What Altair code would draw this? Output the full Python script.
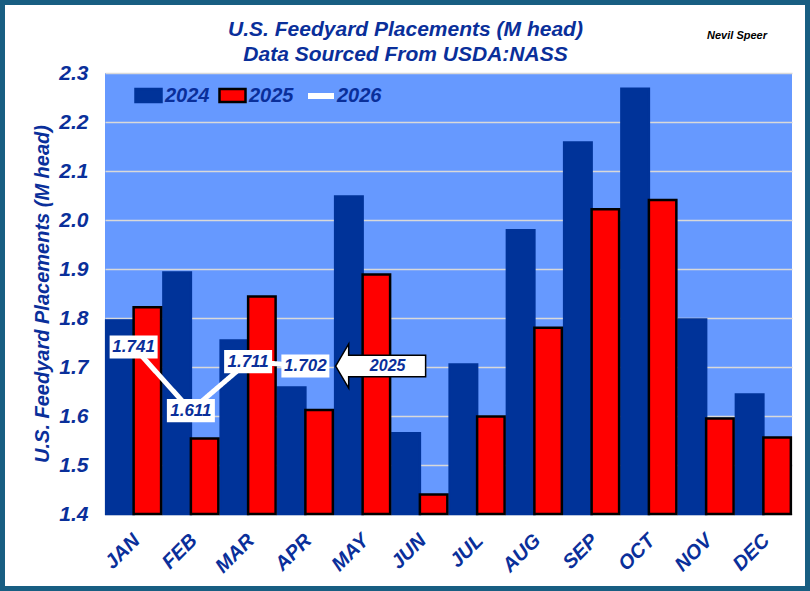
import altair as alt
import pandas as pd

# ---------------- data ----------------
months = ["JAN", "FEB", "MAR", "APR", "MAY", "JUN", "JUL", "AUG", "SEP", "OCT", "NOV", "DEC"]
placements_2024 = [1.795, 1.893, 1.754, 1.658, 2.048, 1.565, 1.705, 1.979, 2.158, 2.268, 1.797, 1.644]
placements_2025 = [1.822, 1.554, 1.844, 1.612, 1.889, 1.440, 1.599, 1.780, 2.022, 2.041, 1.595, 1.556]
months_2026 = ["JAN", "FEB", "MAR", "APR"]
placements_2026 = [1.741, 1.611, 1.711, 1.702]
bar_years = ["2024", "2025"]
line_year = "2026"
y_ticks = [1.4, 1.5, 1.6, 1.7, 1.8, 1.9, 2.0, 2.1, 2.2, 2.3]
title_lines = ["U.S. Feedyard Placements (M head)", "Data Sourced From USDA:NASS"]
y_title = "U.S. Feedyard Placements (M head)"
author = "Nevil Speer"
arrow_label = "2025"

# ---------------- style ----------------
FONT = "Liberation Sans"
BLUE = "#003399"
RED = "#FF0000"
TXT = "#0A2F9A"
PLOT_BG = "#6699FF"
GRID = "#D9D9D9"
FRAME = "#185E82"

W, H = 687, 441

bars_df = pd.DataFrame(
    {
        "month": months * 2,
        "Year": [bar_years[0]] * len(months) + [bar_years[1]] * len(months),
        "value": placements_2024 + placements_2025,
    }
)
line_df = pd.DataFrame(
    {"month": months_2026, "value": placements_2026, "series": [line_year] * len(months_2026)}
)
arrow_df = pd.DataFrame(
    {
        "month": [months[len(placements_2026)]],
        "value": [placements_2026[-1]],
        "label": [arrow_label],
    }
)
note_df = pd.DataFrame({"note": [author]})
frame_df = pd.DataFrame({"k": [0]})

x_scale = alt.Scale(domain=months, paddingInner=0.04, paddingOuter=0.02)
y_scale = alt.Scale(domain=[1.4, 2.3], zero=False, nice=False)

x_axis = alt.Axis(
    title=None,
    labelAngle=315,
    labelFont=FONT,
    labelFontSize=20,
    labelFontWeight="bold",
    labelFontStyle="italic",
    labelColor=TXT,
    labelPadding=16,
    labelOffset=-4,
    domain=False,
    ticks=False,
    grid=False,
)
y_axis = alt.Axis(
    values=y_ticks,
    format=".1f",
    title=y_title,
    titleFont=FONT,
    titleFontSize=20,
    titleFontWeight="bold",
    titleFontStyle="italic",
    titleColor=TXT,
    titlePadding=6,
    labelFont=FONT,
    labelFontSize=21,
    labelFontWeight="bold",
    labelFontStyle="italic",
    labelColor=TXT,
    labelPadding=17,
    domain=False,
    ticks=False,
    grid=True,
    gridColor=GRID,
    gridWidth=1.5,
)

legend_common = dict(
    title=None,
    orient="none",
    direction="horizontal",
    padding=0,
    labelFont=FONT,
    labelFontSize=20,
    labelFontWeight="bold",
    labelFontStyle="italic",
    labelColor=TXT,
    symbolSize=676,
)
bar_legend = alt.Legend(
    legendX=29, legendY=8, columnPadding=4, labelOffset=2,
    symbolType="M-1,-0.5H1V0.5H-1Z", symbolStrokeWidth=2.5, **legend_common
)
line_legend = alt.Legend(
    legendX=200, legendY=7, labelOffset=0,
    symbolType="stroke", symbolStrokeColor="white", symbolStrokeWidth=6,
    **legend_common
)

bars = alt.Chart(bars_df).mark_bar(strokeWidth=2.5).encode(
    x=alt.X("month:N", sort=months, scale=x_scale, axis=x_axis),
    xOffset=alt.XOffset("Year:N", scale=alt.Scale(domain=bar_years)),
    y=alt.Y("value:Q", scale=y_scale, axis=y_axis),
    y2=alt.datum(1.4),
    color=alt.Color("Year:N", scale=alt.Scale(domain=bar_years, range=[BLUE, RED]), legend=bar_legend),
    stroke=alt.Stroke("Year:N", scale=alt.Scale(domain=bar_years, range=[BLUE, "#000000"]), legend=bar_legend),
)

line = alt.Chart(line_df).mark_line(color="white", strokeWidth=5).encode(
    x=alt.X("month:N", sort=months, scale=x_scale, axis=x_axis),
    y=alt.Y("value:Q", scale=y_scale, axis=y_axis),
    strokeDash=alt.StrokeDash(
        "series:N", scale=alt.Scale(domain=[line_year], range=[[1, 0]]), legend=line_legend
    ),
)

label_box = alt.Chart(line_df).mark_point(
    shape="M-1,-0.48H1V0.48H-1Z", size=2304, filled=True, fill="white", opacity=1
).encode(
    x=alt.X("month:N", sort=months, scale=x_scale, axis=x_axis),
    y=alt.Y("value:Q", scale=y_scale, axis=y_axis),
)

label_text = alt.Chart(line_df).mark_text(
    font=FONT, fontSize=17, fontWeight="bold", fontStyle="italic", color=TXT
).encode(
    x=alt.X("month:N", sort=months, scale=x_scale, axis=x_axis),
    y=alt.Y("value:Q", scale=y_scale, axis=y_axis),
    text=alt.Text("value:Q", format=".3f"),
)

arrow_path = "M-1,0L-0.71,-0.49L-0.71,-0.24L1,-0.24L1,0.24L-0.71,0.24L-0.71,0.49Z"
arrow = alt.Chart(arrow_df).mark_point(
    shape=arrow_path, size=8100, filled=True, fill="white", stroke="black",
    strokeWidth=1.5, opacity=1, xOffset=18,
).encode(
    x=alt.X("month:N", sort=months, scale=x_scale, axis=x_axis),
    y=alt.Y("value:Q", scale=y_scale, axis=y_axis),
)
arrow_text = alt.Chart(arrow_df).mark_text(
    font=FONT, fontSize=16, fontWeight="bold", fontStyle="italic", color=TXT, dx=25
).encode(
    x=alt.X("month:N", sort=months, scale=x_scale, axis=x_axis),
    y=alt.Y("value:Q", scale=y_scale, axis=y_axis),
    text="label:N",
)

note = alt.Chart(note_df).mark_text(
    font=FONT, fontSize=11, fontWeight="bold", fontStyle="italic", color="black",
    align="center", baseline="middle",
).encode(x=alt.value(632), y=alt.value(-37), text="note:N")

# outer frame of the picture (stroke only)
frame = alt.Chart(frame_df).mark_rect(filled=False, stroke=FRAME, strokeWidth=10).encode(
    x=alt.value(-105), x2=alt.value(705), y=alt.value(-73), y2=alt.value(518)
)

chart = (
    alt.layer(bars, line, label_box, label_text, arrow, arrow_text, note, frame)
    .resolve_legend(color="shared", stroke="shared", strokeDash="independent")
    .properties(
        width=W,
        height=H,
        autosize=alt.AutoSizeParams(type="none"),
        padding={"left": 105, "top": 73, "right": 18, "bottom": 77},
        title=alt.TitleParams(
            text=title_lines,
            font=FONT,
            fontSize=21,
            fontWeight="bold",
            fontStyle="italic",
            color=TXT,
            anchor="middle",
            dx=-43,
            lineHeight=25,
            offset=0,
            dy=70,
        ),
    )
    .configure(background="white")
    .configure_view(fill=PLOT_BG, stroke=None)
)

chart.save("out.html", embed_options={"renderer": "svg", "actions": False})
